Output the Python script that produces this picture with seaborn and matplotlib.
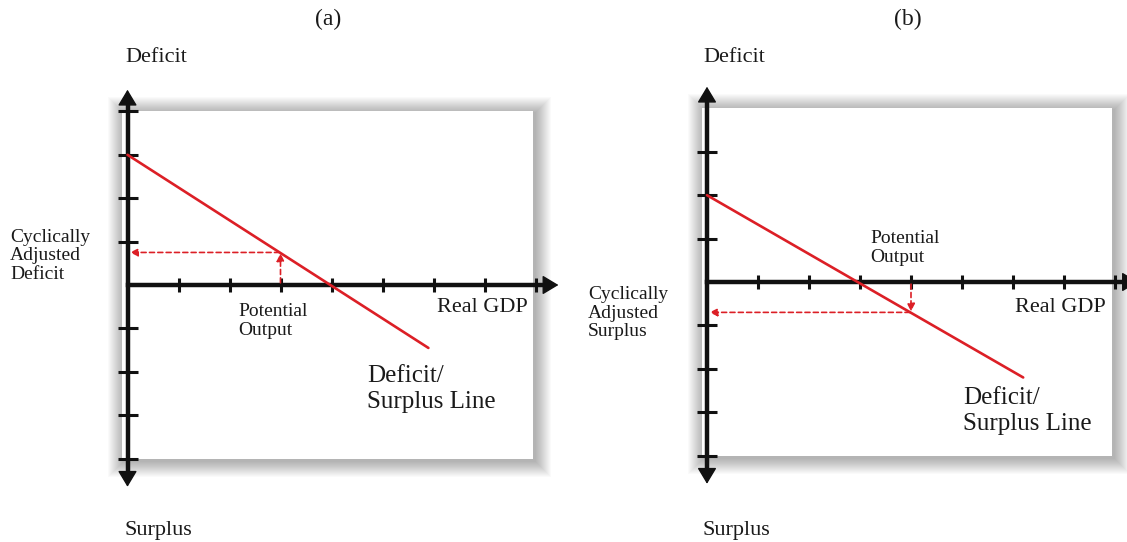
import matplotlib
matplotlib.use("Agg")
import matplotlib.pyplot as plt
import seaborn as sns
import pandas as pd
from matplotlib.patches import Rectangle

# ---------------- data ----------------
panel_titles = ["(a)", "(b)"]
x_ticks = [1, 2, 3, 4, 5, 6, 7, 8]
y_ticks_a = [-4, -3, -2, -1, 1, 2, 3, 4]
y_ticks_b = [-4, -3, -2, -1, 1, 2, 3]

# deficit/surplus line endpoints (real GDP, budget balance)
line_a_x = [0.0, 5.9]
line_a_y = [3.0, -1.45]
line_b_x = [0.0, 6.2]
line_b_y = [2.0, -2.2]

# potential output point on each line
potential_a = (3.0, 0.75)
potential_b = (4.0, -0.70)

side_labels = ["Cyclically\nAdjusted\nDeficit", "Cyclically\nAdjusted\nSurplus"]
top_label = "Deficit"
bottom_label = "Surplus"
x_label = "Real GDP"
potential_label = "Potential\nOutput"
line_label = "Deficit/\nSurplus Line"

# ---------------- style ----------------
sns.set_theme(style="white")
plt.rcParams["font.family"] = ["Liberation Serif", "DejaVu Serif"]

W, H = 1127, 542
fig = plt.figure(figsize=(W / 100, H / 100), dpi=100)
fig.patch.set_facecolor("white")

RED = "#dc1f26"
SX, SY = 51.0, 43.4  # pixels per data unit


def make_axes(px_left, px_right, x0px, y0px):
    ax = fig.add_axes([px_left / W, 0, (px_right - px_left) / W, 1])
    ax.set_xlim((px_left - x0px) / SX, (px_right - x0px) / SX)
    ax.set_ylim(-(H - y0px) / SY, y0px / SY)
    ax.set_facecolor("none")
    return ax


def draw_panel(ax, yticks, lx, ly, pot, pot_dir):
    # shadowed white box
    bx0, bx1, by0, by1 = -0.1, 7.95, -4.0, 4.0
    n = 16
    for i in range(n, 0, -1):
        ex, ey = i / SX, i / SY
        ax.add_patch(Rectangle((bx0 - ex + 2 / SX, by0 - ey - 2 / SY),
                               (bx1 - bx0) + 2 * ex, (by1 - by0) + 2 * ey,
                               facecolor="black", edgecolor="none", alpha=0.02,
                               zorder=0))
    ax.add_patch(Rectangle((bx0, by0), bx1 - bx0, by1 - by0,
                           facecolor="white", edgecolor="none", zorder=0.5))

    # axes through origin
    for s in ["top", "right"]:
        ax.spines[s].set_visible(False)
    ax.spines["left"].set_position(("data", 0))
    ax.spines["bottom"].set_position(("data", 0))
    ax.spines["left"].set_bounds(-4.4, 4.2)
    ax.spines["bottom"].set_bounds(0, 8.2)
    for s in ["left", "bottom"]:
        ax.spines[s].set_linewidth(3.2)
        ax.spines[s].set_color("#111111")
        ax.spines[s].set_zorder(3)
    ax.set_xticks(x_ticks)
    ax.set_yticks(yticks)
    ax.set_xticklabels([])
    ax.set_yticklabels([])
    ax.tick_params(axis="x", bottom=True, direction="inout", length=10,
                   width=2.2, color="#111111")
    ax.tick_params(axis="y", left=True, direction="inout", length=14,
                   width=2.2, color="#111111")

    head = dict(arrowstyle="-|>,head_length=0.5,head_width=0.3",
                color="#111111", lw=1, mutation_scale=20, shrinkA=0, shrinkB=0)
    ax.annotate("", xy=(0, 4.5), xytext=(0, 4.0), arrowprops=head,
                zorder=4, annotation_clip=False)
    ax.annotate("", xy=(0, -4.65), xytext=(0, -4.2), arrowprops=head,
                zorder=4, annotation_clip=False)
    ax.annotate("", xy=(8.45, 0), xytext=(8.0, 0), arrowprops=head,
                zorder=4, annotation_clip=False)

    # deficit / surplus line
    df = pd.DataFrame({"gdp": lx, "balance": ly})
    sns.lineplot(data=df, x="gdp", y="balance", color=RED, linewidth=1.9,
                 ax=ax, zorder=5)
    ax.set_xlabel("")
    ax.set_ylabel("")

    # dashed arrows
    px, py = pot
    dash = dict(arrowstyle="-|>,head_length=0.5,head_width=0.25",
                color=RED, lw=1.2, linestyle=(0, (3, 2)), mutation_scale=9,
                shrinkA=0, shrinkB=0)
    if pot_dir > 0:
        ax.annotate("", xy=(px, py - 0.02), xytext=(px, 0.05),
                    arrowprops=dash, zorder=4)
    else:
        ax.annotate("", xy=(px, py + 0.02), xytext=(px, -0.05),
                    arrowprops=dash, zorder=4)
    ax.annotate("", xy=(0.05, py), xytext=(px - 0.02, py),
                arrowprops=dash, zorder=4)


ax_a = make_axes(0, 570, 127.5, 285)
draw_panel(ax_a, y_ticks_a, line_a_x, line_a_y, potential_a, +1)
ax_b = make_axes(570, W, 707, 282)
draw_panel(ax_b, y_ticks_b, line_b_x, line_b_y, potential_b, -1)


def ftext(x, y, s, size, ha="left", va="center", ls=1.0):
    fig.text(x / W, 1 - y / H, s, fontsize=size, ha=ha, va=va,
             color="#1a1a1a", linespacing=ls)


# panel (a) texts
ftext(328, 19, panel_titles[0], 17, ha="center")
ftext(125, 58, top_label, 16)
ftext(125, 530, bottom_label, 16)
ftext(10, 256, side_labels[0], 14, ls=1.12)
ftext(238, 321, potential_label, 14, ls=1.08)
ftext(437, 307, x_label, 16)
ftext(367, 389, line_label, 18, ls=1.25)

# panel (b) texts
ftext(908, 19, panel_titles[1], 17, ha="center")
ftext(703, 58, top_label, 16)
ftext(703, 530, bottom_label, 16)
ftext(588, 313, side_labels[1], 14, ls=1.12)
ftext(870, 248, potential_label, 14, ls=1.08)
ftext(1015, 307, x_label, 16)
ftext(963, 411, line_label, 18, ls=1.25)

fig.savefig("out.png", dpi=100, facecolor="white")
